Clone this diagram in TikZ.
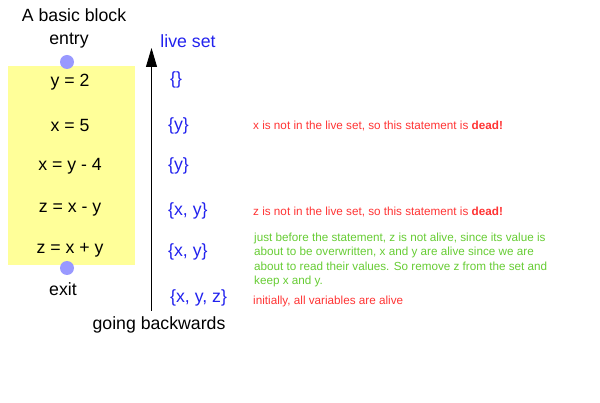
\documentclass[tikz,border=0pt]{standalone}
\usepackage{fontspec}
\setmainfont{Liberation Sans}
\usetikzlibrary{arrows.meta}
\definecolor{blockyellow}{HTML}{FFFF99}
\definecolor{dotblue}{HTML}{9999FF}
\definecolor{setblue}{HTML}{2222EE}
\definecolor{notered}{HTML}{FF3333}
\definecolor{notegreen}{HTML}{66CC33}
\tikzset{
  big/.style={font=\fontsize{17.7}{21}\selectfont, inner sep=0pt},
  stmt/.style={big, text=black},
  setlbl/.style={big, text=setblue, anchor=west},
  note/.style={font=\fontsize{11.7}{14.3}\selectfont, inner sep=0pt, anchor=west},
  dot/.style={circle, fill=dotblue, minimum size=14pt, inner sep=0pt},
}
\begin{document}
\begin{tikzpicture}[x=1pt,y=-1pt]
\useasboundingbox (0,0) rectangle (600,403);
\fill[blockyellow] (8,66) rectangle (135,265);
\node[big] (title) at (74,15) {A basic block};
\node[big] (entry) at (69,41) {entry};
\node[dot] (entrydot) at (67,62) {};
\node[dot] (exitdot) at (67,268) {};
\node[big] (exit) at (63,289) {exit};
\node[stmt] (s1) at (70,82) {y = 2};
\node[stmt] (s2) at (70,125) {x = 5};
\node[stmt] (s3) at (70,166) {x = y - 4};
\node[stmt] (s4) at (70,210) {z = x - y};
\node[stmt] (s5) at (70,250) {z = x + y};
\coordinate (abot) at (151.5,311);
\coordinate (atop) at (151.5,48);
\draw[-{Triangle[length=19pt,width=11pt]}, line width=0.8pt] (abot) -- (atop);
\node[big, text=setblue] (live) at (188,41) {live set};
\node[big] (back) at (159,325) {going backwards};
\node[setlbl] (l1) at (170,80) {\{\}};
\node[setlbl] (l2) at (168,126) {\{y\}};
\node[setlbl] (l3) at (168,166) {\{y\}};
\node[setlbl] (l4) at (168,211) {\{x, y\}};
\node[setlbl] (l5) at (168,252) {\{x, y\}};
\node[setlbl] (l6) at (170,298) {\{x, y, z\}};
\node[note, text=notered] (n1) at (253,126) {x is not in the live set, so this statement is \textbf{dead!}};
\node[note, text=notered] (n2) at (253,212) {z is not in the live set, so this statement is \textbf{dead!}};
\node[note, text=notegreen, align=left, anchor=north west] (n3) at (254,233) {just before the statement, z is not alive, since its value is\\about to be overwritten, x and y are alive since we are\\about to read their values. So remove z from the set and\\keep x and y.};
\node[note, text=notered] (n4) at (253,301) {initially, all variables are alive};
\end{tikzpicture}
\end{document}
